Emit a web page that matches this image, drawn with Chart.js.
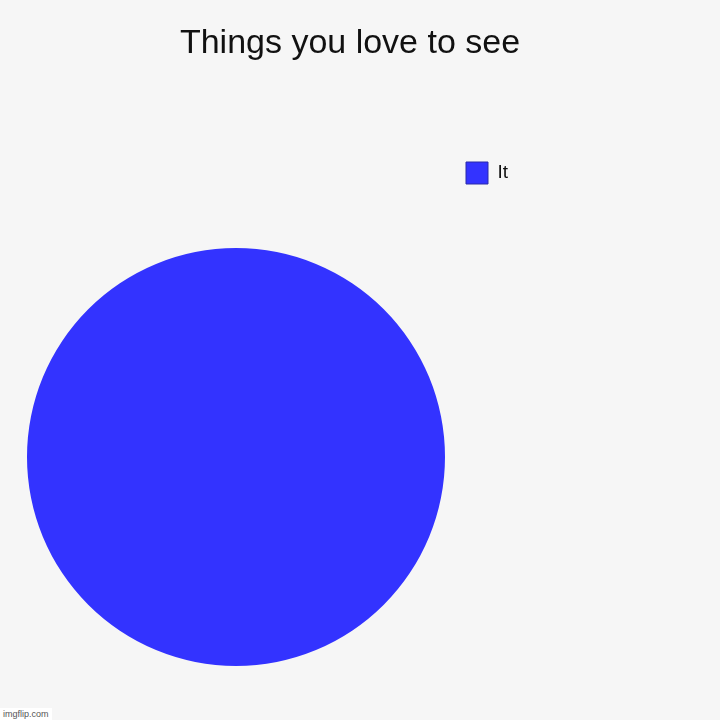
<!DOCTYPE html>
<html>
<head>
<meta charset="utf-8">
<script src="https://cdn.jsdelivr.net/npm/chart.js@4"></script>
<style>
	html, body { margin: 0; padding: 0; background: #f6f6f6; }
	#wrap { position: relative; width: 720px; height: 720px; }
	#mark {
		position: absolute; left: 0; bottom: 0;
		background: #ffffff; color: #555; padding: 1px 3px;
		font: 9px "Liberation Sans", Arial, sans-serif;
	}
</style>
</head>
<body>
<div id="wrap">
	<canvas id="pie" width="720" height="720"></canvas>
	<div id="mark">imgflip.com</div>
</div>
<script>
let labels = ["It"];
let values = [100];
let sliceColors = ["#3333ff"];

// put the pie and the legend where imgflip puts them
const placeIt = {
	id: "placeIt",
	afterLayout(chart) {
		let lg = chart.legend;
		let w = lg.right - lg.left;
		let h = lg.bottom - lg.top;
		lg.left = 456;
		lg.top = 152;
		lg.right = lg.left + w;
		lg.bottom = lg.top + h;
		chart.chartArea = { left: 27, top: 248, right: 445, bottom: 666, width: 418, height: 418 };
	},
};

let obj = {
	type: "pie",
	data: {
		labels: labels,
		datasets: [
			{
				backgroundColor: sliceColors,
				borderWidth: 0,
				data: values,
			},
		],
	},
	options: {
		responsive: false,
		animation: false,
		layout: { padding: { left: 0, right: 20, top: 0, bottom: 0 } },
		plugins: {
			title: {
				display: true,
				text: "Things you love to see",
				color: "#111",
				font: { family: "'Liberation Sans', Arial, sans-serif", size: 34, weight: "normal" },
				padding: { top: 23, bottom: 10 },
			},
			legend: {
				position: "right",
				align: "start",
				labels: {
					color: "#111",
					boxWidth: 22,
					boxHeight: 22,
					font: { family: "'Liberation Sans', Arial, sans-serif", size: 19 },
					generateLabels(chart) {
						let items = Chart.overrides.pie.plugins.legend.labels.generateLabels(chart);
						items.forEach((it) => {
							it.strokeStyle = "#2a2aa8";
							it.lineWidth = 1;
						});
						return items;
					},
				},
			},
			tooltip: { enabled: false },
		},
	},
	plugins: [placeIt],
};

new Chart("pie", obj);
</script>
</body>
</html>
